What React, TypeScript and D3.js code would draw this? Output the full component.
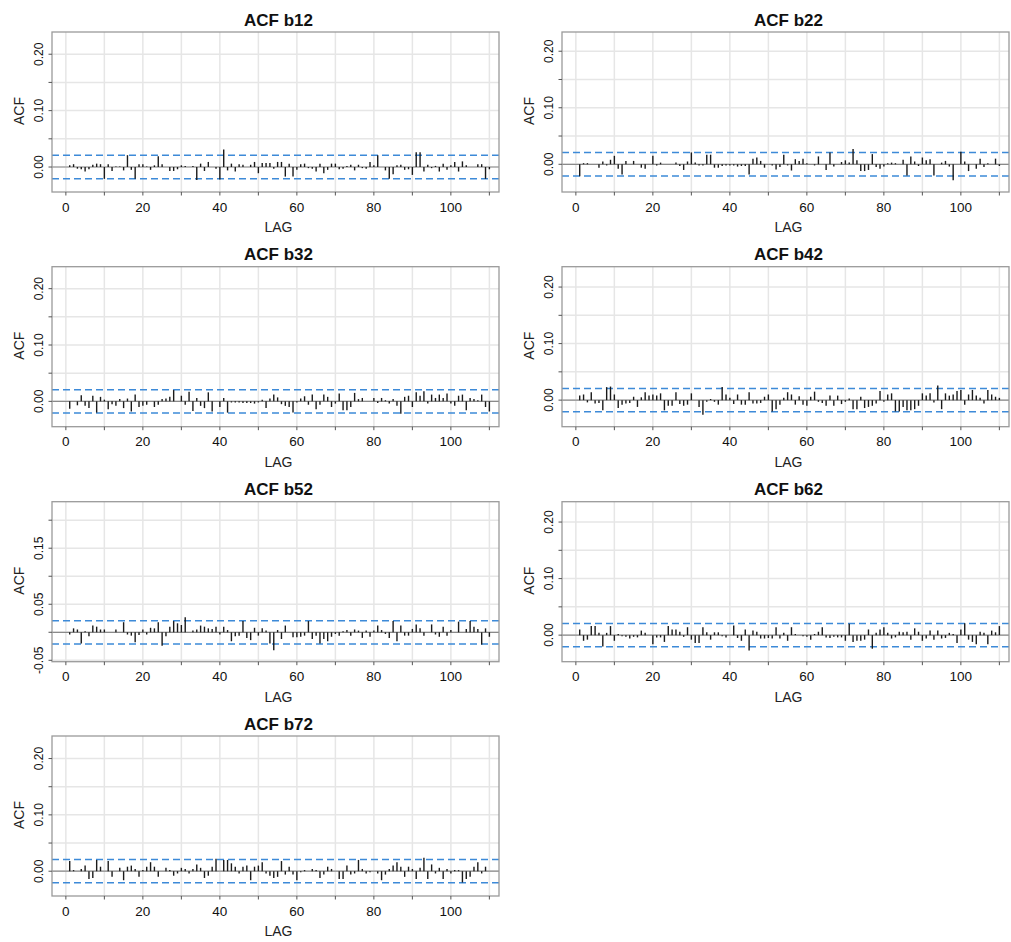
import React from 'react';
import * as d3 from 'd3';

// Lags 1..110 shown in every correlogram
const lags = d3.range(1, 111);

const acfB12 = [
  0.003, 0.005, -0.003, -0.004, -0.008, -0.004, 0.004, 0.006, 0.005, -0.021,
  0.005, -0.007, 0.001, 0.001, -0.006, 0.021, -0.005, -0.021, 0.005, 0.005,
  0.001, -0.005, 0.003, 0.019, 0.005, 0.000, -0.007, -0.007, -0.004, 0.003,
  0.002, 0.000, 0.002, -0.023, 0.006, -0.007, 0.009, 0.000, -0.003, -0.022,
  0.031, -0.006, 0.006, -0.008, 0.005, 0.004, 0.000, 0.004, 0.009, -0.011,
  0.007, 0.007, 0.007, -0.003, 0.009, 0.009, -0.017, 0.006, -0.017, -0.005,
  0.005, 0.006, -0.002, -0.003, -0.008, 0.006, -0.011, -0.005, 0.006, 0.006,
  -0.004, -0.003, 0.002, 0.004, -0.006, 0.004, -0.002, -0.003, 0.009, 0.003,
  0.021, 0.000, -0.006, -0.021, -0.013, 0.003, 0.004, -0.005, -0.004, -0.014,
  0.026, 0.026, -0.008, 0.004, -0.002, 0.002, -0.008, 0.006, -0.005, 0.003,
  0.009, -0.008, 0.010, 0.003, 0.000, 0.000, 0.005, 0.005, -0.021, -0.004,
];

const acfB22 = [
  -0.021, 0.002, 0.002, 0.000, 0.000, -0.006, 0.005, -0.002, 0.008, 0.015,
  -0.008, -0.018, 0.006, 0.000, 0.006, 0.000, -0.006, -0.008, 0.000, 0.015,
  -0.002, 0.003, 0.000, 0.000, 0.000, 0.003, -0.003, -0.010, 0.005, 0.021,
  0.003, -0.002, -0.002, 0.017, 0.017, -0.006, -0.006, -0.003, -0.002, -0.002,
  -0.002, -0.004, -0.003, -0.003, -0.018, 0.010, 0.012, 0.006, -0.006, 0.000,
  -0.002, -0.009, -0.005, 0.017, -0.002, -0.011, 0.009, 0.006, 0.010, 0.002,
  0.000, -0.002, 0.014, 0.000, -0.010, 0.021, -0.004, 0.000, 0.004, 0.007,
  0.003, 0.027, 0.007, -0.012, -0.012, -0.010, 0.018, -0.005, -0.008, -0.004,
  0.002, 0.003, 0.002, 0.000, 0.008, -0.020, 0.014, 0.005, -0.003, 0.012,
  0.007, 0.009, -0.020, 0.000, 0.003, 0.006, -0.004, -0.028, 0.000, 0.022,
  0.005, -0.012, 0.000, -0.008, 0.010, -0.005, 0.002, 0.000, 0.010, -0.003,
];

const acfB32 = [
  -0.013, 0.000, -0.007, 0.011, -0.008, -0.012, 0.010, -0.020, 0.008, 0.003,
  -0.014, -0.005, -0.008, 0.004, -0.012, 0.005, -0.018, 0.012, -0.010, -0.008,
  -0.006, 0.000, -0.010, -0.006, 0.004, 0.005, 0.008, 0.020, 0.000, 0.010,
  -0.006, 0.017, -0.017, 0.006, -0.008, -0.012, 0.016, -0.018, 0.000, -0.010,
  0.006, -0.020, -0.002, -0.002, -0.002, -0.003, -0.003, -0.003, -0.004, -0.002,
  0.003, -0.012, 0.005, 0.012, 0.007, -0.005, -0.008, -0.010, -0.020, -0.002,
  0.005, 0.009, -0.006, 0.012, -0.014, -0.006, 0.012, 0.008, -0.010, -0.004,
  0.014, -0.016, -0.016, -0.010, 0.015, 0.004, 0.006, 0.000, 0.000, 0.006,
  -0.003, 0.006, 0.002, -0.004, 0.004, -0.008, -0.022, 0.008, 0.010, -0.010,
  0.016, 0.010, 0.018, -0.004, 0.012, 0.006, 0.012, 0.006, 0.014, -0.004,
  -0.008, 0.010, 0.012, -0.016, 0.006, 0.004, 0.002, 0.012, -0.010, -0.018,
];

const acfB42 = [
  0.008, 0.010, -0.004, 0.014, -0.006, -0.005, -0.018, 0.023, 0.024, 0.010,
  -0.014, -0.008, -0.006, -0.005, 0.006, -0.012, 0.005, 0.014, 0.008, 0.010,
  0.008, 0.012, -0.018, -0.010, -0.010, 0.014, -0.007, -0.010, -0.008, 0.012,
  0.000, -0.012, -0.026, -0.003, 0.002, -0.003, -0.008, 0.023, 0.010, 0.004,
  -0.007, 0.010, -0.008, -0.008, 0.014, -0.006, -0.006, -0.005, 0.006, 0.010,
  -0.020, -0.016, -0.008, 0.004, 0.014, 0.010, -0.008, 0.007, -0.008, -0.010,
  0.006, 0.015, -0.003, -0.005, -0.010, 0.008, -0.010, 0.008, -0.007, -0.003,
  0.003, -0.016, -0.016, 0.006, -0.014, -0.012, -0.010, -0.006, 0.016, -0.003,
  0.010, 0.012, -0.020, -0.020, -0.012, -0.018, -0.018, -0.016, -0.010, 0.012,
  0.008, 0.012, -0.004, 0.026, -0.016, 0.012, 0.008, 0.010, 0.016, 0.018,
  -0.008, 0.010, 0.018, 0.008, 0.004, -0.006, 0.018, 0.010, 0.006, 0.004,
];

const acfB52 = [
  -0.004, 0.007, 0.005, -0.020, 0.002, -0.007, 0.012, 0.010, 0.005, 0.005,
  0.000, 0.000, 0.005, 0.000, 0.018, -0.004, -0.006, -0.018, -0.005, 0.005,
  -0.004, 0.008, 0.007, 0.018, -0.024, -0.007, 0.010, 0.020, 0.016, 0.013,
  0.027, 0.000, 0.003, 0.005, 0.012, 0.010, 0.007, 0.006, 0.010, -0.004,
  0.010, 0.004, -0.016, -0.007, -0.006, 0.020, -0.010, -0.014, 0.008, -0.006,
  0.007, 0.003, -0.020, -0.032, 0.004, -0.012, 0.012, 0.000, -0.009, -0.009,
  -0.008, -0.006, 0.020, -0.012, -0.006, -0.020, -0.012, -0.016, -0.008, -0.003,
  -0.006, 0.002, 0.004, -0.006, 0.005, 0.003, -0.010, 0.003, -0.008, 0.003,
  0.012, 0.004, -0.003, -0.010, 0.020, -0.016, 0.012, -0.006, -0.006, 0.006,
  0.014, 0.007, -0.006, 0.000, 0.014, -0.004, -0.008, 0.010, -0.006, 0.004,
  0.000, 0.019, 0.000, 0.006, 0.020, 0.010, 0.006, -0.022, 0.007, -0.008,
];

const acfB62 = [
  0.010, -0.010, -0.008, 0.016, 0.016, 0.004, -0.020, 0.004, 0.016, -0.010,
  0.002, -0.002, -0.003, -0.006, -0.003, -0.004, 0.008, 0.004, 0.000, -0.016,
  -0.004, -0.004, -0.012, 0.016, 0.010, 0.010, 0.006, -0.003, 0.014, -0.008,
  -0.014, -0.014, 0.014, 0.005, -0.008, 0.005, 0.005, -0.002, -0.004, 0.000,
  0.017, -0.005, -0.010, 0.010, -0.027, 0.008, 0.006, -0.006, -0.006, -0.005,
  -0.006, 0.014, -0.006, 0.004, -0.010, 0.014, 0.002, 0.000, -0.002, -0.003,
  -0.008, 0.002, 0.006, 0.014, -0.004, -0.005, -0.003, -0.004, -0.004, -0.010,
  0.020, -0.012, -0.010, -0.010, -0.008, 0.010, -0.024, 0.004, 0.010, 0.014,
  0.004, -0.006, -0.004, 0.006, 0.005, 0.006, -0.008, 0.012, 0.006, -0.010,
  -0.006, 0.008, -0.008, 0.008, -0.006, -0.005, 0.004, 0.002, -0.014, 0.010,
  0.021, -0.008, -0.012, -0.016, 0.006, 0.004, -0.016, 0.008, 0.005, 0.016,
];

const acfB72 = [
  0.018, 0.002, 0.000, 0.004, 0.010, -0.014, -0.012, 0.020, 0.008, 0.000,
  0.018, -0.010, 0.000, 0.006, -0.016, 0.008, 0.010, 0.004, -0.010, 0.002,
  0.008, 0.016, 0.008, -0.010, 0.000, 0.006, 0.002, -0.008, -0.004, 0.006,
  0.004, -0.004, 0.004, 0.012, 0.006, -0.012, -0.008, 0.008, 0.022, 0.000,
  0.020, 0.020, 0.014, 0.008, -0.004, 0.008, 0.010, -0.016, 0.008, 0.010,
  0.016, -0.004, -0.008, -0.012, -0.010, 0.018, -0.006, 0.008, -0.006, -0.016,
  -0.002, 0.002, 0.000, 0.004, 0.002, -0.012, -0.006, 0.008, 0.004, 0.000,
  -0.014, -0.014, 0.010, -0.006, -0.004, 0.020, 0.004, -0.004, -0.002, 0.000,
  -0.004, -0.016, -0.006, 0.004, 0.010, 0.016, 0.008, -0.010, 0.008, 0.004,
  -0.014, 0.006, 0.024, -0.014, 0.012, -0.004, 0.006, -0.014, 0.004, -0.004,
  0.002, 0.002, -0.020, -0.014, -0.010, 0.008, 0.016, -0.004, 0.008, 0.000,
];

const seriesNames = ['b12', 'b22', 'b32', 'b42', 'b52', 'b62', 'b72'];
const seriesValues = [acfB12, acfB22, acfB32, acfB42, acfB52, acfB62, acfB72];

// Visible ACF range of each panel
const yLimits: [number, number][] = [
  [-0.0443, 0.2394],
  [-0.049, 0.234],
  [-0.045, 0.239],
  [-0.047, 0.236],
  [-0.0525, 0.233],
  [-0.047, 0.236],
  [-0.044, 0.24],
];

// Labelled y ticks; the remaining 0.05 steps get unlabelled ticks
const yLabelTicks = [
  [0, 0.1, 0.2],
  [0, 0.1, 0.2],
  [0, 0.1, 0.2],
  [0, 0.1, 0.2],
  [-0.05, 0.05, 0.15],
  [0, 0.1, 0.2],
  [0, 0.1, 0.2],
];
const yStepTicks = [-0.05, 0, 0.05, 0.1, 0.15, 0.2];
const lagTicks = d3.range(0, 111, 10);
const lagLabels = [0, 20, 40, 60, 80, 100];
const lagDomain: [number, number] = [-3.6, 112.5];
const ciBound = 0.0207;

const COL_X = [52, 562];
const ROW_Y = [32, 266.7, 501.7, 736];
const BOX_W = 447;
const BOX_H = 160;
const FONT = "'Liberation Sans', Arial, Helvetica, sans-serif";

// Plain ASCII hyphen for negative tick labels
function fmt(v: number) {
  return (Math.abs(v) < 1e-9 ? 0 : v).toFixed(2);
}

function AcfPanel({ idx }: { idx: number }) {
  const name = seriesNames[idx];
  const values = seriesValues[idx];
  const ylim = yLimits[idx];
  const labelled = yLabelTicks[idx];
  const col = idx % 2;
  const row = Math.floor(idx / 2);
  const x0 = COL_X[col];
  const y0 = ROW_Y[row];

  const x = d3.scaleLinear().domain(lagDomain).range([x0, x0 + BOX_W]);
  const y = d3.scaleLinear().domain(ylim).range([y0 + BOX_H, y0]);
  const inside = yStepTicks.filter((v) => v >= ylim[0] && v <= ylim[1]);
  const isLabelled = (v: number) => labelled.some((t) => Math.abs(t - v) < 1e-9);

  const bottom = y0 + BOX_H;
  const labelX = x0 - 8.7;
  const acfLabelX = x0 - 27.7;

  return (
    <g>
      <text
        x={x0 + BOX_W / 2 + 3}
        y={y0 - 6.3}
        textAnchor="middle"
        fontFamily={FONT}
        fontWeight="bold"
        fontSize={17}
        fill="#111"
      >
        {`ACF ${name}`}
      </text>

      {/* grid */}
      <g stroke="#e6e6e6" strokeWidth={1.5}>
        {lagTicks.map((t) => (
          <line key={`gx${t}`} x1={x(t)} x2={x(t)} y1={y0} y2={bottom} />
        ))}
        {inside.map((v) => (
          <line key={`gy${v}`} x1={x0} x2={x0 + BOX_W} y1={y(v)} y2={y(v)} />
        ))}
      </g>

      {/* zero line */}
      <line x1={x0} x2={x0 + BOX_W} y1={y(0)} y2={y(0)} stroke="#8a8a8a" strokeWidth={1.2} />

      {/* confidence bounds */}
      {[ciBound, -ciBound].map((c) => (
        <line
          key={`ci${c}`}
          x1={x0}
          x2={x0 + BOX_W}
          y1={y(c)}
          y2={y(c)}
          stroke="#3d8ad8"
          strokeWidth={1.5}
          strokeDasharray="7,4"
        />
      ))}

      {/* ACF spikes */}
      <g stroke="#1a1a1a" strokeWidth={1.4}>
        {lags.map((lag, i) => (
          <line key={lag} x1={x(lag)} x2={x(lag)} y1={y(0)} y2={y(values[i])} />
        ))}
      </g>

      {/* frame */}
      <rect x={x0} y={y0} width={BOX_W} height={BOX_H} fill="none" stroke="#9a9a9a" strokeWidth={1.3} />

      {/* y axis */}
      <g stroke="#555" strokeWidth={1}>
        {inside.map((v) => (
          <line key={`ty${v}`} x1={x0 - 3.5} x2={x0} y1={y(v)} y2={y(v)} />
        ))}
      </g>
      {inside.filter(isLabelled).map((v) => (
        <text
          key={`ly${v}`}
          transform={`translate(${labelX},${y(v)}) rotate(-90)`}
          textAnchor="middle"
          fontFamily={FONT}
          fontSize={12}
          fill="#111"
        >
          {fmt(v)}
        </text>
      ))}
      <text
        transform={`translate(${acfLabelX},${y0 + BOX_H / 2 - 1}) rotate(-90)`}
        textAnchor="middle"
        fontFamily={FONT}
        fontSize={14}
        fill="#222"
      >
        ACF
      </text>

      {/* x axis */}
      <g stroke="#555" strokeWidth={1}>
        {lagTicks.map((t) => (
          <line key={`tx${t}`} x1={x(t)} x2={x(t)} y1={bottom} y2={bottom + 3.5} />
        ))}
      </g>
      {lagLabels.map((t) => (
        <text
          key={`lx${t}`}
          x={x(t)}
          y={bottom + 19.7}
          textAnchor="middle"
          fontFamily={FONT}
          fontSize={13.5}
          fill="#111"
        >
          {t}
        </text>
      ))}
      <text
        x={x0 + BOX_W / 2 + 3}
        y={bottom + 40.3}
        textAnchor="middle"
        fontFamily={FONT}
        fontSize={14}
        fill="#222"
      >
        LAG
      </text>
    </g>
  );
}

export default function App() {
  return (
    <svg
      width={1011}
      height={942}
      viewBox="0 0 1011 942"
      style={{ position: 'absolute', left: 0, top: 0, background: '#fff' }}
    >
      <rect x={0} y={0} width={1011} height={942} fill="#fff" />
      {seriesNames.map((_, i) => (
        <AcfPanel key={i} idx={i} />
      ))}
    </svg>
  );
}
